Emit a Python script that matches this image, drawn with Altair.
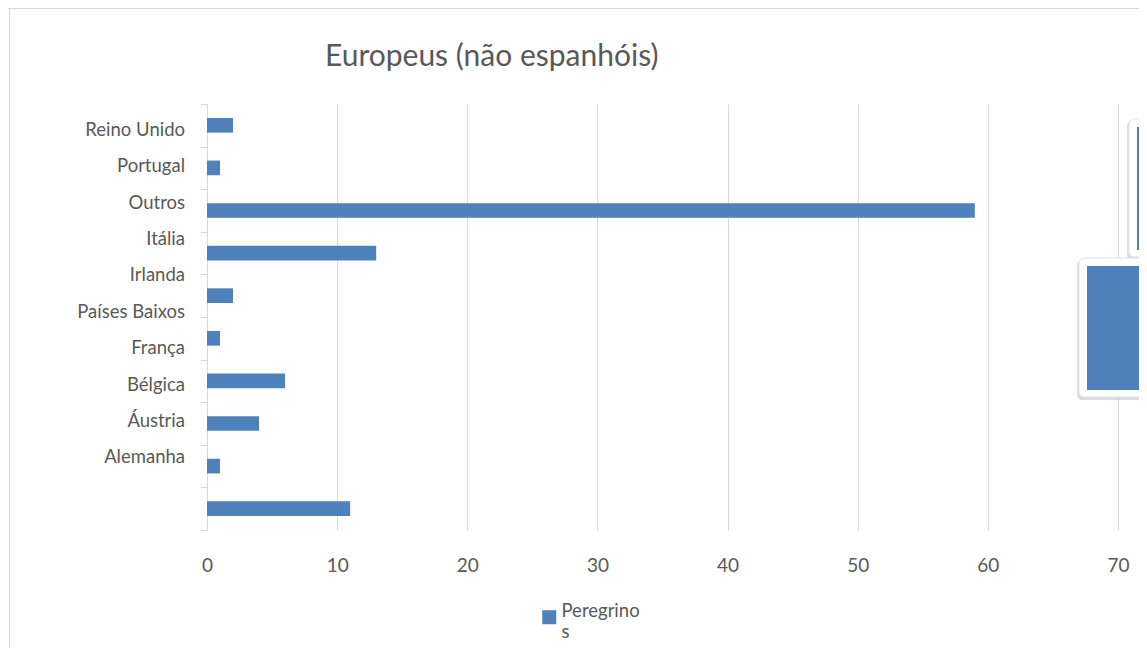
import altair as alt
import pandas as pd

# ---- data ----
categories = ["Reino Unido", "Portugal", "Outros", "Itália", "Irlanda",
              "Países Baixos", "França", "Bélgica", "Áustria", "Alemanha"]
values = [2, 1, 59, 13, 2, 1, 6, 4, 1, 11]
series_name = "Peregrinos"
x_ticks = [0, 10, 20, 30, 40, 50, 60, 70]
title_text = "Europeus (não espanhóis)"

df = pd.DataFrame({"pais": categories, "valor": values,
                   "serie": [series_name] * len(categories)})
one = pd.DataFrame({"k": [0]})

BLUE = "#4F81BD"
TEXT = "#595959"
GRID = "#D9D9D9"
FONT = "Lato"

base = alt.Chart(df)

bars = base.mark_bar(height=alt.RelativeBandSize(0.345)).encode(
    x=alt.X("valor:Q", scale=alt.Scale(domain=[0, 70], nice=False),
            axis=alt.Axis(values=x_ticks, title=None, grid=True, gridColor=GRID,
                          domain=False, ticks=False, tickSize=0, labelPadding=26,
                          labelFlush=False,
                          labelFontSize=19, labelColor=TEXT, labelFont=FONT)),
    y=alt.Y("pais:N", sort=categories,
            scale=alt.Scale(paddingInner=0, paddingOuter=0),
            axis=alt.Axis(title=None, labels=False, ticks=True, tickBand="extent",
                          tickSize=7, tickColor=GRID, domainColor=GRID, grid=False)),
    color=alt.Color("serie:N", scale=alt.Scale(range=[BLUE]),
                    legend=alt.Legend(orient="none", legendX=333, legendY=504,
                                      title=None, symbolType="square", symbolSize=196,
                                      symbolStrokeWidth=0, labelFont=FONT,
                                      labelFontSize=18.5, labelColor=TEXT,
                                      labelBaseline="alphabetic", padding=0, labelOffset=3,
                                      labelExpr="[slice(datum.label,0,9), slice(datum.label,9)]")),
)

labels = base.mark_text(align="right", baseline="middle", dx=-22, font=FONT,
                        fontSize=18.5, color=TEXT).encode(
    x=alt.datum(0),
    y=alt.Y("pais:N", sort=categories,
            scale=alt.Scale(type="band", paddingInner=0, paddingOuter=0.856, align=0.125),
            axis=None),
    text="pais:N",
)

# decorative frame and floating shapes at the right edge
frame_left = alt.Chart(one).mark_rule(color=GRID, strokeWidth=1).encode(
    x=alt.value(-197.5), y=alt.value(-96), y2=alt.value(544))
frame_top = alt.Chart(one).mark_rule(color=GRID, strokeWidth=1).encode(
    x=alt.value(-199), x2=alt.value(940), y=alt.value(-95.5))

def box(x, y, y2):
    shadow = alt.Chart(one).mark_rect(color="#BFBFBF", opacity=0.55, cornerRadius=5).encode(
        x=alt.value(x - 2), x2=alt.value(980), y=alt.value(y + 2), y2=alt.value(y2 + 3))
    outer = alt.Chart(one).mark_rect(color="white", stroke="#E3E3E3", strokeWidth=1,
                                     cornerRadius=5).encode(
        x=alt.value(x), x2=alt.value(980), y=alt.value(y), y2=alt.value(y2))
    inner = alt.Chart(one).mark_rect(color=BLUE).encode(
        x=alt.value(x + 8), x2=alt.value(980), y=alt.value(y + 8), y2=alt.value(y2 - 7))
    return [shadow, outer, inner]

decor = box(922, 15, 153) + box(872, 154, 293)

chart = alt.layer(frame_left, frame_top, bars, labels, *decor).resolve_scale(
    y="independent"
).properties(
    width=911, height=426,
    autosize=alt.AutoSizeParams(type="none"),
    padding={"left": 199, "top": 96, "right": 21, "bottom": 118},
    title=alt.TitleParams(title_text, anchor="start", frame="group", dx=118,
                          offset=-88, baseline="alphabetic", font=FONT, fontSize=30,
                          fontWeight="normal", color=TEXT),
).configure(background="white", view=alt.ViewConfig(stroke=None))

chart.save("out.html", embed_options={"renderer": "svg", "actions": False})
